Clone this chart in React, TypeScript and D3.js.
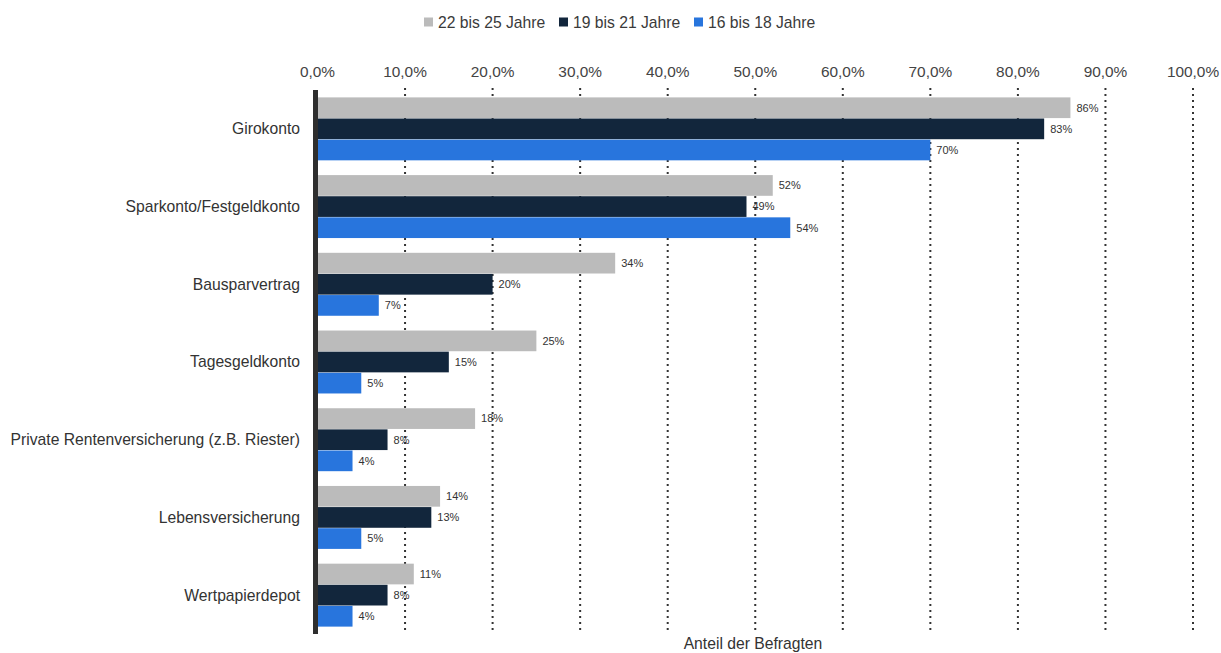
import React from "react";
import * as d3 from "d3";

const categories = [
  "Girokonto",
  "Sparkonto/Festgeldkonto",
  "Bausparvertrag",
  "Tagesgeldkonto",
  "Private Rentenversicherung (z.B. Riester)",
  "Lebensversicherung",
  "Wertpapierdepot",
];
const seriesNames = ["22 bis 25 Jahre", "19 bis 21 Jahre", "16 bis 18 Jahre"];
const values2225 = [86, 52, 34, 25, 18, 14, 11];
const values1921 = [83, 49, 20, 15, 8, 13, 8];
const values1618 = [70, 54, 7, 5, 4, 5, 4];
const seriesValues = [values2225, values1921, values1618];
const colors = ["#bbbbbb", "#12263c", "#2875dd"];
const tickValues = [0, 10, 20, 30, 40, 50, 60, 70, 80, 90, 100];

const W = 1221;
const H = 653;
const FONT = "'Liberation Sans', Arial, sans-serif";

export default function App() {
  const x = d3.scaleLinear().domain([0, 100]).range([317.5, 1193]);
  const y = d3
    .scaleBand<string>()
    .domain(categories)
    .range([90, 634])
    .paddingInner(0.19)
    .paddingOuter(0.095);
  const inner = d3
    .scaleBand<number>()
    .domain([0, 1, 2])
    .range([0, y.bandwidth()])
    .paddingInner(0.02);
  const fmt = (v: number) => v.toFixed(1).replace(".", ",") + "%";

  const legendX = [424, 559, 694];

  return (
    <svg
      width={W}
      height={H}
      style={{ position: "absolute", left: 0, top: 0, background: "#fff" }}
      fontFamily={FONT}
    >
      {/* legend */}
      <g>
        {seriesNames.map((s, i) => (
          <g key={s} transform={`translate(${legendX[i]},22)`}>
            <rect x={0} y={-4.5} width={9} height={9} fill={colors[i]} />
            <text x={14} y={0} dy="0.35em" fontSize={15.7} fill="#3a3a3a">
              {s}
            </text>
          </g>
        ))}
      </g>

      {/* top tick labels */}
      {tickValues.map((t) => (
        <text
          key={"t" + t}
          x={x(t)}
          y={72}
          dy="0.35em"
          textAnchor="middle"
          fontSize={15.4}
          fill="#444"
        >
          {fmt(t)}
        </text>
      ))}

      {/* gridlines */}
      {tickValues
        .filter((t) => t > 0)
        .map((t) => (
          <line
            key={"g" + t}
            x1={x(t)}
            x2={x(t)}
            y1={88}
            y2={634}
            stroke="#333"
            strokeWidth={2}
            strokeDasharray="2,4"
          />
        ))}

      {/* bars */}
      {categories.map((c, ci) => (
        <g key={c} transform={`translate(0,${y(c)})`}>
          {seriesValues.map((vals, si) => {
            const by = inner(si) as number;
            const bh = inner.bandwidth();
            return (
              <g key={si}>
                <rect
                  x={x(0)}
                  y={by}
                  width={x(vals[ci]) - x(0)}
                  height={bh}
                  fill={colors[si]}
                />
                <text
                  x={x(vals[ci]) + 6}
                  y={by + bh / 2}
                  dy="0.35em"
                  fontSize={11}
                  fill="#333"
                >
                  {vals[ci] + "%"}
                </text>
              </g>
            );
          })}
          <text
            x={300}
            y={y.bandwidth() / 2}
            dy="0.35em"
            textAnchor="end"
            fontSize={15.7}
            fill="#333"
          >
            {c}
          </text>
        </g>
      ))}

      {/* axis bar */}
      <rect x={313} y={90} width={5} height={544} fill="#2e2e2e" />

      {/* axis title */}
      <text x={753} y={644} dy="0.35em" textAnchor="middle" fontSize={15.7} fill="#333">
        Anteil der Befragten
      </text>
    </svg>
  );
}
